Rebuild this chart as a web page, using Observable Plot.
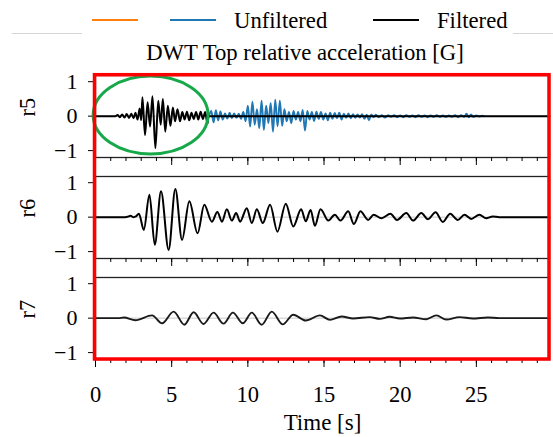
<!DOCTYPE html>
<html><head><meta charset="utf-8">
<script src="https://cdn.jsdelivr.net/npm/d3@7"></script>
<script src="https://cdn.jsdelivr.net/npm/@observablehq/plot@0.6"></script>
<style>
body{margin:0;background:#fff;width:553px;height:437px;overflow:hidden;font-family:"Liberation Serif","Times New Roman",serif;}
#root{position:relative;width:553px;height:437px;}
#root > *{position:absolute;left:0;}
</style></head><body><div id="root"></div>
<script>
// ---- data ----
const titleText = "DWT Top relative acceleration [G]";
const xLabel = "Time [s]";
const panelNames = ["r5", "r6", "r7"];
const legendLabels = ["", "Unfiltered", "Filtered"];
const legendColors = ["#ff7f0e", "#1f77b4", "#000000"];
const yTicks = [-1, 0, 1];
const majorTicks = [0, 5, 10, 15, 20, 25];
const minorTicks = [0,1,2,3,4,5,6,7,8,9,10,11,12,13,14,15,16,17,18,19,20,21,22,23,24,25,26,27,28,29];

// [time s, acceleration G] — local peaks/troughs
const r5Filtered = [[0,0],[1.3,0],[1.45,0.03],[1.6,-0.03],[1.75,0.05],[1.9,-0.04],[2.05,0.06],[2.2,-0.05],[2.35,0.07],[2.5,-0.06],[2.62,0.1],[2.76,-0.1],[2.9,0.22],[3.0,-0.12],[3.08,0.55],[3.25,-0.55],[3.42,0.4],[3.58,-0.3],[3.74,0.58],[3.93,-0.93],[4.12,0.45],[4.28,-0.25],[4.42,0.5],[4.58,-0.45],[4.75,0.3],[4.92,-0.28],[5.08,0.25],[5.22,-0.15],[5.38,0.2],[5.55,-0.15],[5.7,0.12],[5.85,-0.1],[6.0,0.13],[6.15,-0.12],[6.3,0.1],[6.45,-0.08],[6.6,0.12],[6.75,-0.1],[6.9,0.13],[7.05,-0.08],[7.2,0.12],[7.35,-0.22],[7.42,0],[29.8,0]];

const r5Unfiltered = [[7.45,0],[7.6,0.15],[7.75,-0.18],[7.9,0.17],[8.05,-0.12],[8.2,0.14],[8.35,-0.1],[8.5,0.08],[8.65,-0.07],[8.8,0.1],[8.95,-0.06],[9.1,0.08],[9.25,-0.05],[9.4,0.07],[9.55,-0.08],[9.7,0.12],[9.85,-0.15],[10.0,0.3],[10.15,-0.3],[10.3,0.42],[10.45,-0.25],[10.6,0.2],[10.75,-0.35],[10.9,0.45],[11.05,-0.4],[11.2,0.3],[11.35,-0.2],[11.5,0.38],[11.65,-0.45],[11.8,0.48],[11.95,-0.3],[12.1,0.45],[12.25,-0.28],[12.4,0.2],[12.55,-0.15],[12.7,0.12],[12.85,-0.2],[13.0,0.15],[13.15,-0.1],[13.3,0.12],[13.45,-0.15],[13.6,0.18],[13.75,-0.42],[13.9,0.15],[14.05,-0.1],[14.2,0.12],[14.35,-0.14],[14.5,0.13],[14.65,-0.08],[14.8,0.12],[14.95,-0.1],[15.1,0.08],[15.25,-0.12],[15.4,0.1],[15.55,-0.08],[15.7,0.09],[15.85,-0.06],[16.0,0.1],[16.15,-0.1],[16.3,0.07],[16.45,-0.05],[16.6,0.08],[16.75,-0.06],[16.9,0.06],[17.05,-0.05],[17.2,0.05],[17.35,-0.04],[17.5,0.06],[17.65,-0.08],[17.8,0.04],[17.95,-0.12],[18.1,0.05],[18.25,-0.03],[18.4,0.04],[18.6,-0.03],[18.8,0.03],[19.0,-0.04],[19.2,0.03],[19.4,-0.02],[19.6,0.03],[19.8,-0.03],[20.0,0.02],[20.2,-0.03],[20.4,0.03],[20.6,-0.02],[20.8,0.02],[21.0,-0.03],[21.2,0.03],[21.4,-0.02],[21.6,0.02],[21.8,-0.03],[22.0,0.02],[22.2,-0.02],[22.4,0.03],[22.6,-0.02],[22.8,0.02],[23.0,-0.02],[23.2,0.02],[23.4,-0.02],[23.6,0.03],[23.8,-0.03],[24.0,0.03],[24.2,-0.02],[24.35,0.07],[24.5,-0.03],[24.65,0.05],[24.8,-0.02],[25.0,0.02],[25.2,-0.01],[25.4,0.01],[25.5,0]];

const r6Filtered = [[0,0],[1.95,0],[2.1,0.01],[2.3,0.04],[2.5,0.0],[2.65,0.02],[2.85,0.1],[3.17,-0.37],[3.54,0.65],[3.89,-0.8],[4.3,0.75],[4.8,-0.95],[5.24,0.82],[5.68,-0.66],[6.16,0.46],[6.7,-0.47],[7.14,0.36],[7.64,-0.13],[8.0,0.15],[8.3,-0.13],[8.62,0.23],[8.95,-0.1],[9.23,0.12],[9.49,-0.13],[9.93,0.26],[10.26,-0.17],[10.59,0.23],[10.98,-0.17],[11.46,0.36],[11.94,-0.42],[12.49,0.39],[12.98,-0.27],[13.5,0.23],[13.8,-0.12],[14.12,0.21],[14.4,-0.25],[14.77,0.23],[15.28,-0.1],[15.71,0.07],[16.08,-0.1],[16.59,0.17],[16.96,-0.2],[17.39,0.17],[17.89,-0.08],[18.26,0.07],[18.77,-0.03],[19.36,0.1],[19.79,-0.08],[20.4,0.12],[20.84,-0.1],[21.39,0.12],[21.82,-0.06],[22.32,0.14],[22.8,-0.14],[23.28,0.1],[23.78,-0.08],[24.22,0.07],[24.66,-0.05],[25.2,0.07],[25.64,-0.03],[26.07,0.02],[26.5,0],[29.8,0]];

const r7Filtered = [[0,0],[1.5,0],[1.86,0.02],[2.62,-0.06],[3.71,0.08],[4.37,-0.15],[5.13,0.19],[5.83,-0.19],[6.44,0.17],[7.09,-0.17],[7.75,0.16],[8.4,-0.16],[9.02,0.16],[9.67,-0.15],[10.26,0.16],[10.91,-0.19],[11.57,0.19],[12.29,-0.18],[12.98,0.1],[13.8,-0.07],[14.73,0.08],[15.39,-0.05],[16.15,0.05],[16.91,-0.01],[18.0,0.03],[18.66,-0.02],[19.31,0.04],[19.97,-0.01],[20.84,0.02],[21.71,-0.03],[22.37,0.08],[23.02,-0.04],[23.89,0.03],[24.76,-0.01],[25.74,0.02],[26.5,0],[29.8,0]];

// highlighted region (green ellipse) in r5 data units: centre time, centre value, half-width, half-height
const highlight = {t: 3.65, v: 0.02, rt: 3.77, rv: 1.13};

// ---- layout ----
const FONT = '"Liberation Serif","Times New Roman",serif';
const W = 553, ML = 95, MR = 4, PH = 82, MT = 2;
const panelTops = [75, 176, 277];
const xDomain = [0, 29.8], yDomain = [-1.2, 1.18];
const root = document.getElementById("root");

function makePanel(i, series) {
  const isBottom = i === 2;
  const MB = isBottom ? 75 : 12;
  const marks = [
    Plot.ruleY([0], {stroke: "#c8c8c8", strokeWidth: 1}),
    ...series.map(s => Plot.line(s.data, {x: d => d[0], y: d => d[1], stroke: s.color, strokeWidth: s.width, curve: "monotone-x"})),
    Plot.frame({stroke: "#222", strokeWidth: 1.3}),
    Plot.axisY(yTicks, {tickSize: 7, tickPadding: 11, label: null, fontSize: 22}),
    Plot.axisX(minorTicks, {tickSize: 4, tickFormat: () => "", label: null}),
    Plot.axisX(majorTicks, {tickSize: 8, tickPadding: 19, tickFormat: isBottom ? (d => String(d)) : (() => ""), label: null, fontSize: 22.5}),
    Plot.text([panelNames[i]], {frameAnchor: "left", dx: -68, rotate: -90, text: d => d, fontSize: 22.5})
  ];
  if (isBottom) marks.push(Plot.text([xLabel], {frameAnchor: "bottom", dy: 70, lineAnchor: "bottom", text: d => d, fontSize: 23}));
  const p = Plot.plot({
    width: W, height: MT + PH + MB,
    marginLeft: ML, marginRight: MR, marginTop: MT, marginBottom: MB,
    x: {domain: xDomain}, y: {domain: yDomain},
    style: {fontFamily: FONT, fontSize: "22px", color: "#000", background: "transparent", overflow: "visible"},
    marks
  });
  p.style.position = "absolute";
  p.style.top = (panelTops[i] - MT) + "px";
  p.style.left = "0px";
  root.appendChild(p);
  return p;
}

const p5 = makePanel(0, [{data: r5Unfiltered, color: legendColors[1], width: 1.9}, {data: r5Filtered, color: legendColors[2], width: 2}]);
makePanel(1, [{data: r6Filtered, color: legendColors[2], width: 2}]);
makePanel(2, [{data: r7Filtered, color: "#1a1a1a", width: 1.9}]);

// green highlight ellipse using r5's scales
{
  const xs = p5.scale("x"), ys = p5.scale("y");
  const cx = xs.apply(highlight.t), cy = ys.apply(highlight.v);
  d3.select(p5).append("ellipse")
    .attr("cx", cx).attr("cy", cy)
    .attr("rx", xs.apply(highlight.t + highlight.rt) - cx)
    .attr("ry", ys.apply(highlight.v - highlight.rv) - cy)
    .attr("fill", "none").attr("stroke", "#17a84a").attr("stroke-width", 3);
}

// legend + title + red box overlay
const ov = d3.select(root).append("svg").attr("width", W).attr("height", 437)
  .style("position", "absolute").style("top", "0px").style("left", "0px").style("pointer-events", "none")
  .style("font-family", FONT);
ov.append("line").attr("x1", 12).attr("x2", 82).attr("y1", 33.5).attr("y2", 33.5).attr("stroke", "#d4d4d4");
ov.append("line").attr("x1", 513).attr("x2", 553).attr("y1", 33.5).attr("y2", 33.5).attr("stroke", "#d4d4d4");
const legendX = [92, 170, 373];
legendLabels.forEach((lab, k) => {
  ov.append("line").attr("x1", legendX[k]).attr("x2", legendX[k] + 46).attr("y1", 20).attr("y2", 20)
    .attr("stroke", legendColors[k]).attr("stroke-width", 1.8);
  if (lab) ov.append("text").attr("x", legendX[k] + 64).attr("y", 28).attr("font-size", 22.7).text(lab);
});
ov.append("text").attr("x", 305).attr("y", 60).attr("text-anchor", "middle").attr("font-size", 22.7).text(titleText);
ov.append("rect").attr("x", ML - 0.5).attr("y", panelTops[0] - 0.3).attr("width", W - MR - ML + 0.5)
  .attr("height", panelTops[2] + PH - panelTops[0] + 0.3)
  .attr("fill", "none").attr("stroke", "#ff0000").attr("stroke-width", 3.5);
</script></body></html>
